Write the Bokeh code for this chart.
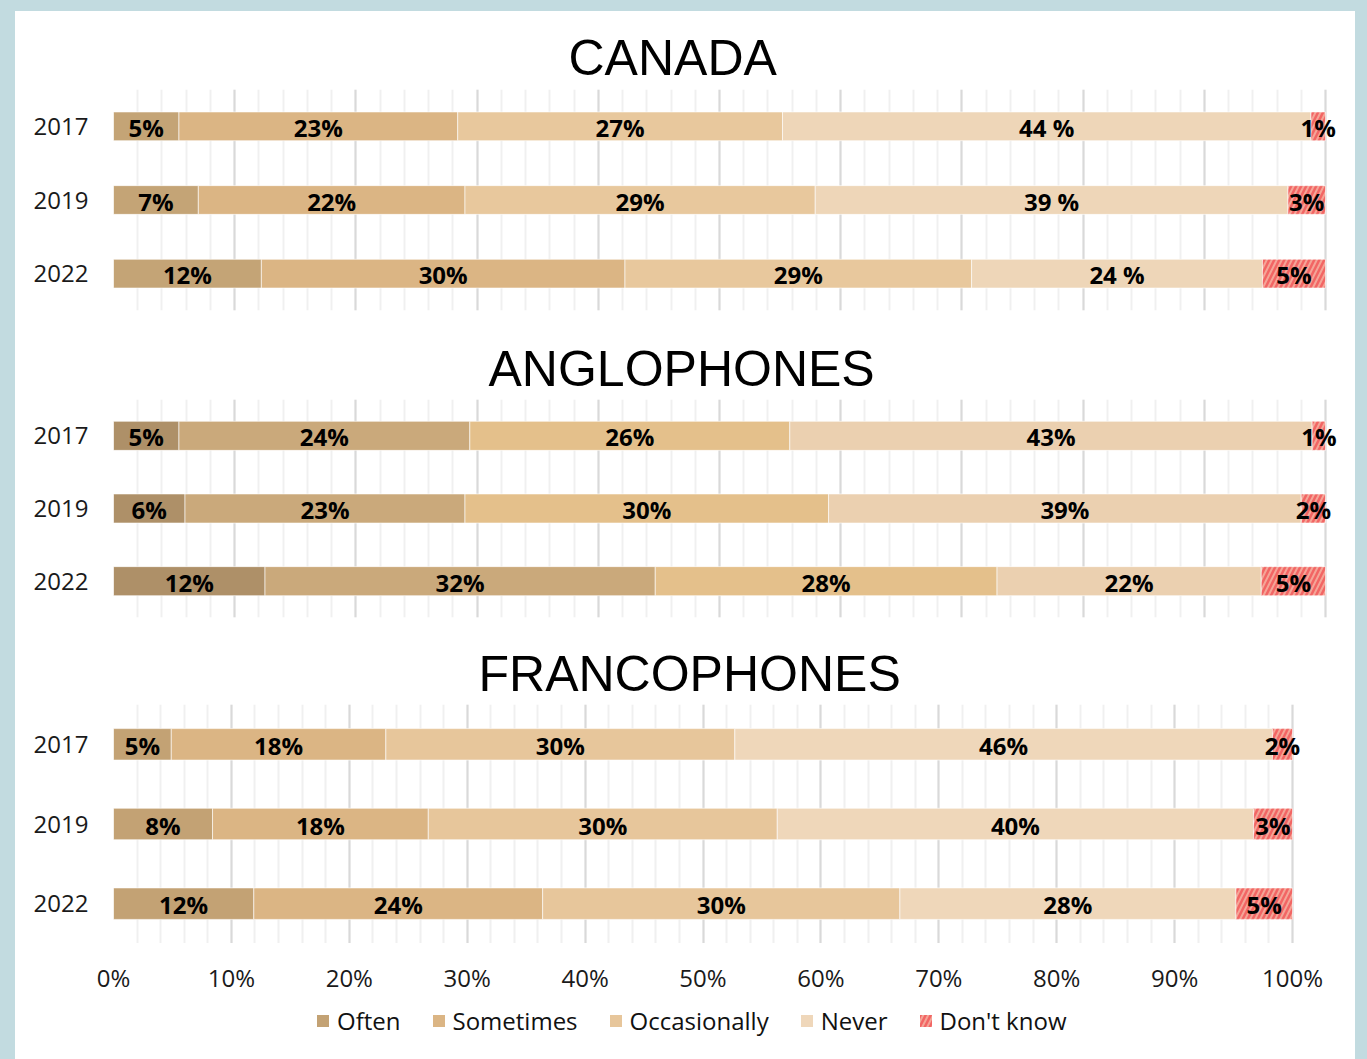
from bokeh.plotting import figure
from bokeh.models import (ColumnDataSource, FixedTicker, Range1d, FactorRange, Legend,
                          LegendItem, LabelSet, Title, GlobalInlineStyleSheet)
from bokeh.core.properties import value
from bokeh.embed import file_html
from bokeh.resources import INLINE

# ---------------- data ----------------
years = ["2017", "2019", "2022"]
categories = ["Often", "Sometimes", "Occasionally", "Never", "Don't know"]
x_ticks = list(range(0, 101, 10))
x_tick_labels = ["0%", "10%", "20%", "30%", "40%", "50%", "60%", "70%", "80%", "90%", "100%"]
x_minor_ticks = list(range(0, 101, 2))

canada_often = [5.4, 7.0, 12.2]
canada_sometimes = [23.0, 22.0, 30.0]
canada_occasionally = [26.8, 28.9, 28.6]
canada_never = [43.6, 39.0, 24.0]
canada_dont_know = [1.2, 3.1, 5.2]
canada_often_lbl = ["5%", "7%", "12%"]
canada_sometimes_lbl = ["23%", "22%", "30%"]
canada_occasionally_lbl = ["27%", "29%", "29%"]
canada_never_lbl = ["44 %", "39 %", "24 %"]
canada_dont_know_lbl = ["1%", "3%", "5%"]

anglo_often = [5.4, 5.9, 12.5]
anglo_sometimes = [24.0, 23.1, 32.2]
anglo_occasionally = [26.4, 30.0, 28.2]
anglo_never = [43.1, 39.0, 21.8]
anglo_dont_know = [1.1, 2.0, 5.3]
anglo_often_lbl = ["5%", "6%", "12%"]
anglo_sometimes_lbl = ["24%", "23%", "32%"]
anglo_occasionally_lbl = ["26%", "30%", "28%"]
anglo_never_lbl = ["43%", "39%", "22%"]
anglo_dont_know_lbl = ["1%", "2%", "5%"]

franco_often = [4.9, 8.4, 11.9]
franco_sometimes = [18.2, 18.3, 24.5]
franco_occasionally = [29.6, 29.6, 30.3]
franco_never = [45.6, 40.4, 28.5]
franco_dont_know = [1.7, 3.3, 4.8]
franco_often_lbl = ["5%", "8%", "12%"]
franco_sometimes_lbl = ["18%", "18%", "24%"]
franco_occasionally_lbl = ["30%", "30%", "30%"]
franco_never_lbl = ["46%", "40%", "28%"]
franco_dont_know_lbl = ["2%", "3%", "5%"]

# ---------------- styles ----------------
FONT = "Open Sans"
DK_FILL = "#f4a597"
DK_HATCH = "#f25e5e"
HATCH = dict(hatch_pattern="/", hatch_color=DK_HATCH, hatch_scale=10,
             hatch_weight=2.5, hatch_alpha=0.9)
canada_colors = ["#c4a476", "#dbb584", "#e8c89d", "#eed6b8", DK_FILL]
anglo_colors = ["#ae9068", "#caa97b", "#e4c08b", "#ebd0b0", DK_FILL]
franco_colors = ["#c3a274", "#dbb584", "#e7c69b", "#efd7ba", DK_FILL]


def make_panel(title, vals, lbls, colors, frame_w, bar_w, frame_h, top, right,
               bar_h, t_left, t_standoff):
    p = figure(frame_width=frame_w, frame_height=frame_h,
               x_range=Range1d(0, 100 * frame_w / bar_w),
               y_range=FactorRange(factors=list(reversed(years))),
               output_backend="svg", toolbar_location=None,
               min_border_left=98, min_border_right=right,
               min_border_top=top, min_border_bottom=0)
    p.outline_line_color = None
    p.background_fill_alpha = 0
    p.border_fill_color = "white"

    p.add_layout(Title(text=title, align="left", offset=t_left, standoff=t_standoff,
                       text_font="Liberation Sans", text_font_size="50px",
                       text_font_style="normal", text_color="black"), "above")

    ticker = FixedTicker(ticks=x_ticks, minor_ticks=x_minor_ticks)
    p.xaxis.ticker = ticker
    p.xgrid.ticker = ticker
    p.xgrid.grid_line_color = "#d9d9d9"
    p.xgrid.grid_line_width = 2
    p.xgrid.minor_grid_line_color = "#f0f0f0"
    p.xgrid.minor_grid_line_width = 2
    p.ygrid.grid_line_color = None
    p.xaxis.visible = False

    p.yaxis.axis_line_color = None
    p.yaxis.major_tick_line_color = None
    p.yaxis.minor_tick_line_color = None
    p.yaxis.major_tick_out = 0
    p.yaxis.minor_tick_out = 0
    p.yaxis.major_label_standoff = 25
    p.yaxis.major_label_text_font = FONT
    p.yaxis.major_label_text_font_size = "24px"
    p.yaxis.major_label_text_color = "#1a1a1a"

    sources = []
    cum = [0.0] * len(years)
    for cat, v, lb, col in zip(categories, vals, lbls, colors):
        left = cum
        right_ = [a + b for a, b in zip(cum, v)]
        mid = [(a + b) / 2 for a, b in zip(left, right_)]
        src = ColumnDataSource(dict(y=years, left=left, right=right_, mid=mid, label=lb))
        kw = HATCH if cat == "Don't know" else {}
        p.hbar(y="y", left="left", right="right", height=bar_h, source=src,
               fill_color=col, line_color="white", line_alpha=0.6, line_width=1, **kw)
        p.add_layout(LabelSet(x="mid", y="y", text="label", source=src,
                              text_align="center", text_baseline="middle",
                              text_font=value(FONT), text_font_style="bold",
                              text_font_size="24px", text_color="black", y_offset=-1))
        sources.append(src)
        cum = right_
    return p, sources


p1, _ = make_panel("CANADA",
                   [canada_often, canada_sometimes, canada_occasionally, canada_never, canada_dont_know],
                   [canada_often_lbl, canada_sometimes_lbl, canada_occasionally_lbl, canada_never_lbl, canada_dont_know_lbl],
                   canada_colors, 1227, 1212, 221, 78, 15, 0.39, 455, 7)
p1.min_border_bottom = 20
p2, _ = make_panel("ANGLOPHONES",
                   [anglo_often, anglo_sometimes, anglo_occasionally, anglo_never, anglo_dont_know],
                   [anglo_often_lbl, anglo_sometimes_lbl, anglo_occasionally_lbl, anglo_never_lbl, anglo_dont_know_lbl],
                   anglo_colors, 1227, 1212, 218, 69, 15, 0.40, 375, 5)
p2.min_border_bottom = 20
p3, franco_sources = make_panel("FRANCOPHONES",
                                [franco_often, franco_sometimes, franco_occasionally, franco_never, franco_dont_know],
                                [franco_often_lbl, franco_sometimes_lbl, franco_occasionally_lbl, franco_never_lbl, franco_dont_know_lbl],
                                franco_colors, 1197, 1179, 239, 67, 45, 0.395, 365, 6)

# ---------------- percentage scale + legend strip under the francophone panel ----------------
PX_PER_PCT = 1179 / 100          # same scale as the francophone bars
strip_left_pad = 38              # frame starts 38 px left of the 0% position
p4 = figure(frame_width=1280, frame_height=105,
            x_range=Range1d(-strip_left_pad / PX_PER_PCT, (1280 - strip_left_pad) / PX_PER_PCT),
            y_range=FactorRange(factors=list(reversed(years))),
            output_backend="svg", toolbar_location=None,
            min_border_left=60, min_border_right=0, min_border_top=0, min_border_bottom=0)
p4.axis.visible = False
p4.grid.visible = False
p4.outline_line_color = None
p4.background_fill_alpha = 0
p4.border_fill_color = "white"

tick_src = ColumnDataSource(dict(x=x_ticks, y=[71] * len(x_ticks), text=x_tick_labels))
p4.add_layout(LabelSet(x="x", y="y", y_units="screen", text="text", source=tick_src,
                       text_align="center", text_baseline="middle",
                       text_font=value(FONT), text_font_size="24px", text_color="#1a1a1a"))

# legend entries tied to the francophone series (renderers hidden in this strip)
items = []
for cat, col, src in zip(categories, franco_colors, franco_sources):
    kw = HATCH if cat == "Don't know" else {}
    r = p4.hbar(y="y", left="left", right="right", height=0.4, source=src,
                fill_color=col, line_color=None, **kw)
    r.visible = False
    items.append(LegendItem(label=cat, renderers=[r]))

legend = Legend(items=items, orientation="horizontal", location=(240, 11),
                label_text_font=FONT, label_text_font_size="24px", label_text_color="#111111",
                glyph_width=15, glyph_height=15, label_standoff=7, spacing=30,
                border_line_color=None, background_fill_alpha=0, padding=0, margin=0)
p4.add_layout(legend)

p1.stylesheets = [GlobalInlineStyleSheet(
    css="html { background-color: #c2dbe0 !important; } "
        "body { background-color: #ffffff !important; margin: 11px 12px 0px 15px !important; "
        "padding: 0px !important; height: calc(100% - 11px) !important; }")]

open("out.html", "w").write(file_html([p1, p2, p3, p4], INLINE))
